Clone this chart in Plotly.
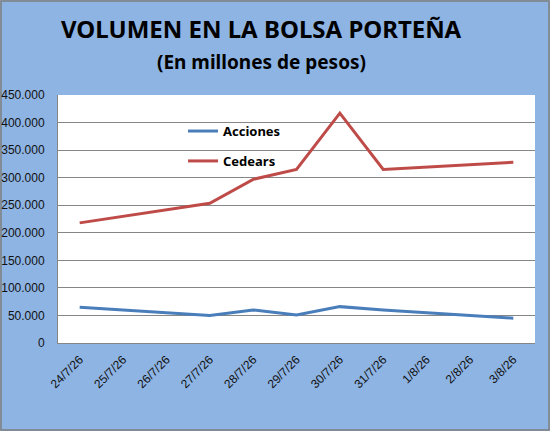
import plotly.graph_objects as go

# Fechas (eje de categorias) y volumen en millones de pesos
fechas = ["24/7/26", "25/7/26", "26/7/26", "27/7/26", "28/7/26", "29/7/26",
          "30/7/26", "31/7/26", "1/8/26", "2/8/26", "3/8/26"]
acciones = [65000, None, None, 50000, 60000, 51000, 66000, 60000, None, None, 45000]
cedears = [218000, None, None, 253500, 297000, 315000, 417000, 315000, None, None, 328000]

BG = "#8EB4E3"
GRID = "#868686"

fig = go.Figure()

fig.add_trace(go.Scatter(
    x=fechas, y=acciones, name="<b>Acciones</b>", mode="lines", connectgaps=True,
    line=dict(color="#4A7EBB", width=3), legendgroup="a"))
fig.add_trace(go.Scatter(
    x=fechas, y=cedears, name="<b>Cedears</b>", mode="lines", connectgaps=True,
    line=dict(color="#BE4B48", width=3), legendgroup="c"))

fig.update_layout(
    width=550, height=431,
    paper_bgcolor=BG, plot_bgcolor="white",
    margin=dict(l=58, r=15, t=95, b=88, autoexpand=False),
    separators=",.",
    font=dict(family="Liberation Sans, Arial, sans-serif", size=11, color="#111111"),
    showlegend=True,
    legend=dict(x=0.262, y=0.915, xanchor="left", yanchor="top",
                bgcolor="rgba(0,0,0,0)", tracegroupgap=10,
                font=dict(size=13, color="black", family="Noto Sans, sans-serif")),
)

fig.update_xaxes(
    type="category", range=[-0.5, 10.5], tickangle=-45, automargin=False,
    showgrid=False, showline=True, linecolor=GRID, linewidth=1,
    ticks="", ticklabelstandoff=4, tickfont=dict(size=12))
fig.update_yaxes(
    range=[0, 450000], dtick=50000, tickformat=",d", automargin=False,
    showgrid=True, gridcolor=GRID, gridwidth=1,
    showline=True, linecolor=GRID, linewidth=1,
    zeroline=False, ticks="", ticklabelstandoff=10, tickfont=dict(size=12))

# Titulo y subtitulo
fig.add_annotation(text="<b>VOLUMEN EN LA BOLSA PORTEÑA</b>", xref="paper", yref="paper",
                   x=0.426, y=1.27, xanchor="center", yanchor="middle", showarrow=False,
                   font=dict(size=24, color="black", family="Noto Sans, sans-serif"))
fig.add_annotation(text="<b>(En millones de pesos)</b>", xref="paper", yref="paper",
                   x=0.426, y=1.135, xanchor="center", yanchor="middle", showarrow=False,
                   font=dict(size=19, color="black", family="Noto Sans, sans-serif"))

# Borde exterior del grafico
fig.add_shape(type="rect", xref="paper", yref="paper",
              x0=-57 / 477, x1=1 + 14 / 477, y0=-87 / 248, y1=1 + 94 / 248,
              line=dict(color="#7F7F7F", width=1.5), fillcolor="rgba(0,0,0,0)", layer="below")

fig.write_html("out.html", config={"displayModeBar": False},
               post_script="document.body.style.margin='0';")
